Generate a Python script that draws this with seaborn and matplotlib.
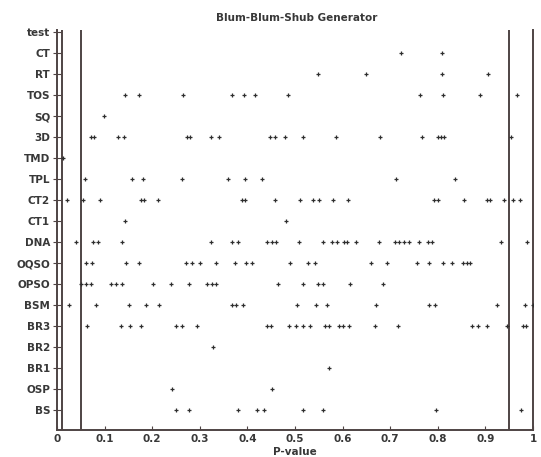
import matplotlib
matplotlib.use("Agg")
import matplotlib.pyplot as plt
import seaborn as sns
import pandas as pd

# ---- data ----
tests = ["test", "CT", "RT", "TOS", "SQ", "3D", "TMD", "TPL", "CT2", "CT1",
         "DNA", "OQSO", "OPSO", "BSM", "BR3", "BR2", "BR1", "OSP", "BS"]

ct = [0.723, 0.808]
rt = [0.548, 0.649, 0.808, 0.905]
tos = [0.143, 0.172, 0.265, 0.367, 0.393, 0.417, 0.486, 0.763, 0.810, 0.889, 0.966]
sq = [0.099]
d3 = [0.071, 0.078, 0.129, 0.141, 0.274, 0.279, 0.323, 0.341, 0.447, 0.459,
      0.480, 0.516, 0.586, 0.678, 0.766, 0.800, 0.807, 0.814, 0.953]
tmd = [0.013]
tpl = [0.059, 0.158, 0.181, 0.263, 0.360, 0.394, 0.430, 0.712, 0.836]
ct2 = [0.020, 0.055, 0.090, 0.176, 0.182, 0.213, 0.388, 0.395, 0.458, 0.511,
       0.538, 0.550, 0.580, 0.611, 0.791, 0.801, 0.856, 0.903, 0.910, 0.939,
       0.959, 0.972]
ct1 = [0.143, 0.481]
dna = [0.040, 0.075, 0.087, 0.136, 0.323, 0.367, 0.380, 0.441, 0.451, 0.460,
       0.509, 0.558, 0.577, 0.588, 0.602, 0.610, 0.628, 0.676, 0.710, 0.718,
       0.728, 0.739, 0.760, 0.779, 0.788, 0.933, 0.987]
oqso = [0.061, 0.073, 0.146, 0.173, 0.271, 0.283, 0.300, 0.333, 0.374, 0.398,
        0.409, 0.489, 0.528, 0.542, 0.660, 0.694, 0.756, 0.782, 0.810, 0.829,
        0.853, 0.861, 0.868]
opso = [0.050, 0.061, 0.071, 0.113, 0.124, 0.136, 0.201, 0.239, 0.277, 0.316,
        0.325, 0.333, 0.465, 0.516, 0.549, 0.558, 0.616, 0.684]
bsm = [0.026, 0.081, 0.151, 0.186, 0.215, 0.367, 0.377, 0.391, 0.505, 0.545,
       0.567, 0.670, 0.781, 0.794, 0.925, 0.984, 0.999]
br3 = [0.064, 0.134, 0.153, 0.176, 0.251, 0.262, 0.295, 0.441, 0.450, 0.488,
       0.502, 0.516, 0.532, 0.563, 0.572, 0.593, 0.601, 0.614, 0.668, 0.717,
       0.872, 0.885, 0.903, 0.946, 0.980, 0.986]
br2 = [0.328]
br1 = [0.571]
osp = [0.242, 0.452]
bs = [0.250, 0.277, 0.380, 0.420, 0.434, 0.517, 0.558, 0.797, 0.975]

thresholds = [0.01, 0.05, 0.95]
xticks = [0, 0.1, 0.2, 0.3, 0.4, 0.5, 0.6, 0.7, 0.8, 0.9, 1]
xtick_labels = ["0", "0.1", "0.2", "0.3", "0.4", "0.5", "0.6", "0.7", "0.8", "0.9", "1"]

series = [("CT", ct), ("RT", rt), ("TOS", tos), ("SQ", sq), ("3D", d3),
          ("TMD", tmd), ("TPL", tpl), ("CT2", ct2), ("CT1", ct1), ("DNA", dna),
          ("OQSO", oqso), ("OPSO", opso), ("BSM", bsm), ("BR3", br3),
          ("BR2", br2), ("BR1", br1), ("OSP", osp), ("BS", bs)]
rows = [(name, v) for name, vals in series for v in vals]
df = pd.DataFrame(rows, columns=["test", "p"])

# ---- style ----
sns.set_theme(style="white")
plt.rcParams["font.family"] = ["DejaVu Sans"]
txt = "#383838"
line_col = "#4e4444"

fig = plt.figure(figsize=(5.41, 4.57), dpi=100)
ax = fig.add_axes([57 / 541, 27 / 457, (533 - 57) / 541, (430 - 30) / 457])

sns.stripplot(data=df, x="p", y="test", order=tests, jitter=False,
              marker="+", size=3.5, color="#2e2e2e", linewidth=0.9, ax=ax)

for t in thresholds:
    ax.axvline(t, color=line_col, lw=1.4, zorder=1)

ax.set_xlim(0, 1)
ax.set_ylim(18.95, -0.1)
ax.set_xticks(xticks)
ax.set_xticklabels(xtick_labels)

for side in ["left", "bottom", "right"]:
    ax.spines[side].set_visible(True)
    ax.spines[side].set_color(line_col)
    ax.spines[side].set_linewidth(1.4)
ax.spines["top"].set_visible(False)

ax.tick_params(axis="x", direction="in", length=3, width=0.8, color=line_col,
               labelsize=7.5, labelcolor=txt, pad=3, bottom=True)
ax.tick_params(axis="y", direction="inout", length=6, width=0.8, color=line_col,
               labelsize=7.5, labelcolor=txt, pad=2, left=True)
for lab in ax.get_xticklabels() + ax.get_yticklabels():
    lab.set_fontweight("bold")

ax.set_ylabel("")
ax.set_xlabel("P-value", fontsize=7.5, fontweight="bold", color=txt, labelpad=2)
fig.text(297 / 541, 1 - 18 / 457, "Blum-Blum-Shub Generator", ha="center",
         va="center", fontsize=7.5, fontweight="bold", color=txt)

fig.savefig("out.png", dpi=100)
